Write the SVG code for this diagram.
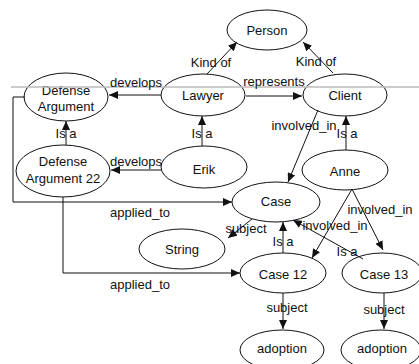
<svg xmlns="http://www.w3.org/2000/svg" width="419" height="364" viewBox="0 0 419 364">
<style>
.n ellipse{fill:#fff;stroke:#111;stroke-width:1}
text{font-family:"Liberation Sans",Arial,sans-serif;font-size:13px;fill:#111;text-anchor:middle;dominant-baseline:central}
.e path,.e line,.e polyline{fill:none;stroke:#111;stroke-width:1;marker-end:url(#ah)}
</style>
<defs>
<marker id="ah" markerUnits="userSpaceOnUse" markerWidth="10" markerHeight="8" refX="9" refY="4" orient="auto">
<path d="M0,0 L9,4 L0,8 Z" fill="#111"/>
</marker>
</defs>
<rect width="419" height="364" fill="#fff"/>
<g id="nodes" class="n">
<g id="person"><ellipse cx="267" cy="30" rx="40" ry="20"/><text x="267" y="30">Person</text></g>
<g id="lawyer"><ellipse cx="203" cy="95" rx="42" ry="21"/><text x="203" y="95">Lawyer</text></g>
<g id="client"><ellipse cx="345" cy="95" rx="42" ry="21"/><text x="345" y="95">Client</text></g>
<g id="defense-argument"><ellipse cx="66" cy="97" rx="42" ry="24"/><text x="66" y="90">Defense</text><text x="66" y="106">Argument</text></g>
<g id="defense-argument-22"><ellipse cx="63" cy="171" rx="47" ry="26"/><text x="63" y="161">Defense</text><text x="63" y="178">Argument 22</text></g>
<g id="erik"><ellipse cx="204" cy="167" rx="43" ry="21"/><text x="204" y="169">Erik</text></g>
<g id="anne"><ellipse cx="345" cy="170" rx="43" ry="20"/><text x="345" y="171">Anne</text></g>
<g id="case"><ellipse cx="276" cy="202" rx="44" ry="20"/><text x="276" y="201">Case</text></g>
<g id="string"><ellipse cx="182" cy="249" rx="43" ry="20"/><text x="182" y="249">String</text></g>
<g id="case12"><ellipse cx="283" cy="273" rx="43" ry="20"/><text x="283" y="274">Case 12</text></g>
<g id="case13"><ellipse cx="382" cy="273" rx="40" ry="20"/><text x="384" y="274">Case 13</text></g>
<g id="adoption1"><ellipse cx="282" cy="350" rx="42" ry="20"/><text x="282" y="348">adoption</text></g>
<g id="adoption2"><ellipse cx="381" cy="350" rx="40" ry="20"/><text x="382" y="348">adoption</text></g>
</g>
<line x1="11" y1="87" x2="419" y2="87" stroke="#bbb" stroke-width="1.5"/>
<g id="connectors" class="e">
<line x1="207" y1="74" x2="237" y2="42"/>
<line x1="333" y1="73" x2="303" y2="42"/>
<line x1="161" y1="95" x2="109" y2="95"/>
<line x1="246" y1="96" x2="302" y2="96"/>
<line x1="161" y1="170" x2="111" y2="170"/>
<line x1="66" y1="145" x2="66" y2="121"/>
<line x1="202" y1="146" x2="202" y2="116"/>
<line x1="346" y1="150" x2="346" y2="116"/>
<line x1="318" y1="110" x2="288" y2="182"/>
<polyline points="25,97 13,97 13,202 232,202"/>
<polyline points="63,197 63,273 240,273"/>
<line x1="252" y1="219" x2="228" y2="238"/>
<line x1="283" y1="253" x2="283" y2="222"/>
<line x1="363" y1="259" x2="293" y2="220"/>
<line x1="352" y1="189" x2="312" y2="258"/>
<line x1="352" y1="189" x2="383" y2="250"/>
<line x1="283" y1="293" x2="283" y2="329"/>
<line x1="384" y1="293" x2="384" y2="329"/>
</g>
<g id="labels">
<text x="211" y="62">Kind of</text>
<text x="316" y="61">Kind of</text>
<text x="136" y="82">develops</text>
<text x="274" y="81">represents</text>
<text x="136" y="161">develops</text>
<text x="66" y="133">Is a</text>
<text x="202" y="133">Is a</text>
<text x="347" y="133">Is a</text>
<text x="304" y="125">involved_in</text>
<text x="140" y="212">applied_to</text>
<text x="140" y="284">applied_to</text>
<text x="246" y="228">subject</text>
<text x="283" y="241">Is a</text>
<text x="335" y="225">involved_in</text>
<text x="347" y="251">Is a</text>
<text x="380" y="209">involved_in</text>
<text x="287" y="307">subject</text>
<text x="384" y="309">subject</text>
</g>
</svg>
